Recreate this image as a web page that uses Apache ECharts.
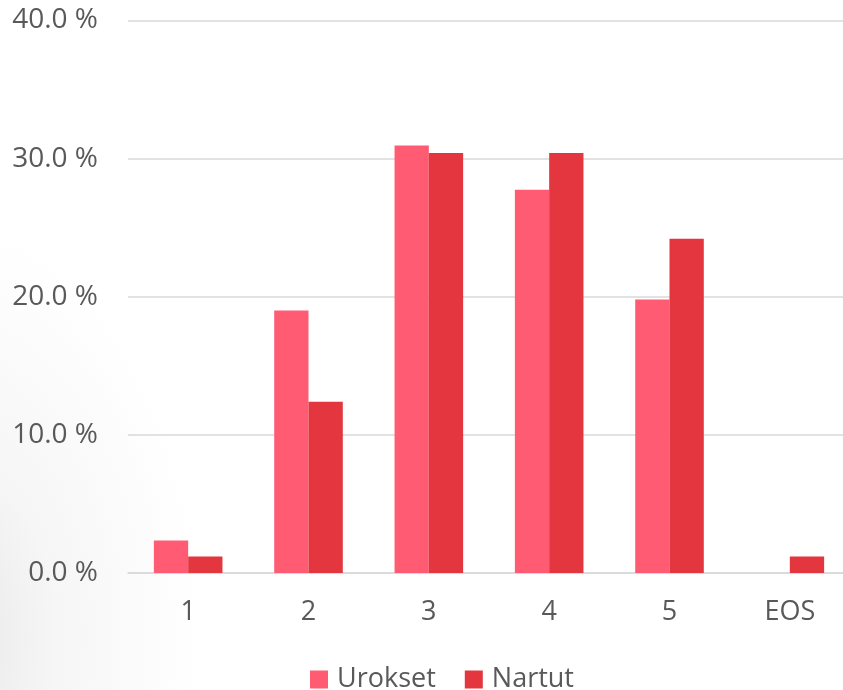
<!DOCTYPE html>
<html>
<head>
<meta charset="utf-8">
<script src="https://cdn.jsdelivr.net/npm/echarts@6/dist/echarts.min.js"></script>
<style>
  html, body { margin: 0; padding: 0; }
  body {
    width: 843px; height: 690px;
    background: radial-gradient(ellipse 260px 420px at -60px 640px, #e6e6e6 0%, #f6f6f6 45%, #ffffff 100%);
  }
  #chart { width: 843px; height: 690px; }
</style>
</head>
<body>
<div id="chart"></div>
<script>
// Share of dogs per grade, by sex (%)
const categories = ['1', '2', '3', '4', '5', 'EOS'];
const urokset = [2.35, 19.0, 30.95, 27.75, 19.8, 0];
const nartut = [1.2, 12.4, 30.4, 30.4, 24.2, 1.2];
const yTicks = [0, 10, 20, 30, 40];

const textColor = '#595959';
const font = 'Open Sans';

const chart = echarts.init(document.getElementById('chart'), null, { renderer: 'canvas' });
chart.setOption({
  animation: false,
  grid: {
    left: 128, width: 722, top: 20.5, height: 552.5,
    containLabel: false, outerBoundsMode: 'none'
  },
  legend: {
    top: 666,
    left: 310,
    padding: 0,
    itemWidth: 18,
    itemHeight: 18,
    itemGap: 29,
    icon: 'rect',
    textStyle: { color: textColor, fontSize: 27, fontFamily: font, padding: [0, 0, 0, 4] },
    data: ['Urokset', 'Nartut']
  },
  xAxis: {
    type: 'category',
    data: categories,
    axisLine: { lineStyle: { color: '#d9d9d9', width: 1.5 } },
    axisTick: { show: false },
    axisLabel: { color: textColor, fontSize: 27, fontFamily: font, margin: 26 }
  },
  yAxis: {
    type: 'value',
    min: yTicks[0],
    max: yTicks[yTicks.length - 1],
    interval: 10,
    axisLine: { show: false },
    axisTick: { show: false },
    splitLine: { lineStyle: { color: '#d9d9d9', width: 1.5 } },
    axisLabel: {
      color: textColor, fontSize: 28, fontFamily: font, margin: 30,
      formatter: v => v.toFixed(1) + ' %'
    }
  },
  series: [
    {
      name: 'Urokset', type: 'bar', data: urokset,
      barGap: '0%', barCategoryGap: '43%',
      itemStyle: { color: '#ff5c74' }
    },
    {
      name: 'Nartut', type: 'bar', data: nartut,
      itemStyle: { color: '#e3363e' }
    }
  ]
});
</script>
</body>
</html>
